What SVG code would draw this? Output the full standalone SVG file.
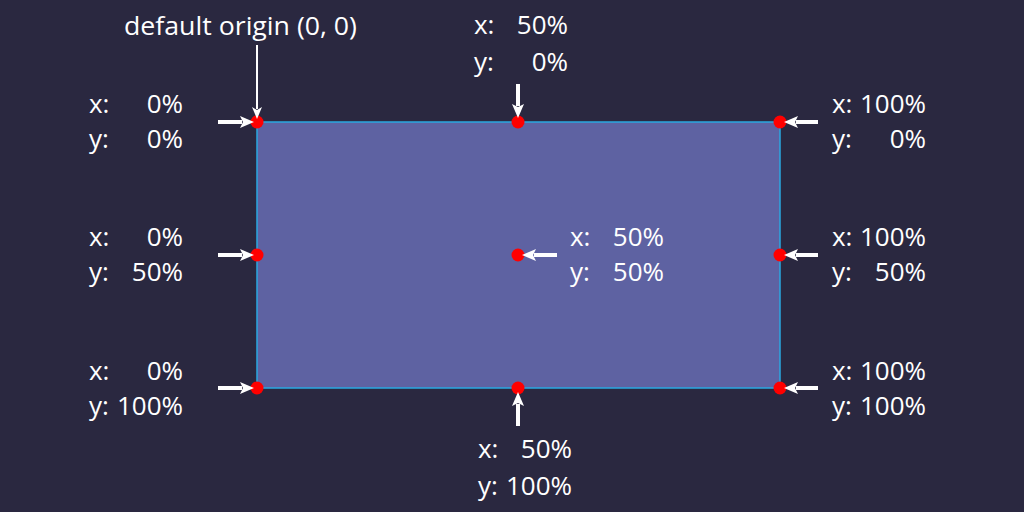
<svg xmlns="http://www.w3.org/2000/svg" width="1024" height="512" viewBox="0 0 1024 512">
<defs>
<style>
text{font-family:"Open Sans","Noto Sans",sans-serif;font-size:26px;fill:#ffffff}
.e{text-anchor:end}
.arr{stroke:#ffffff;stroke-width:4;fill:none}
.thin{stroke:#ffffff;stroke-width:2;fill:none}
.dot{fill:#ff0000}
</style>
<marker id="ah" viewBox="0 0 14 12" refX="2" refY="6" markerWidth="14" markerHeight="12" markerUnits="userSpaceOnUse" orient="auto">
<path d="M0,0 L14,6 L0,12 L3,6 Z" fill="#ffffff"/>
</marker>
<marker id="ah2" viewBox="0 0 12 10" refX="2" refY="5" markerWidth="12" markerHeight="10" markerUnits="userSpaceOnUse" orient="auto">
<path d="M0,0 L12,5 L0,10 L3,5 Z" fill="#ffffff"/>
</marker>
</defs>
<rect width="1024" height="512" fill="#2a2840"/>
<g id="box">
<rect x="257" y="122" width="523" height="266" fill="#5e62a2" stroke="#2aa8e0" stroke-width="1.5"/>
</g>
<g id="dots">
<circle class="dot" cx="257" cy="122" r="6.5"/>
<circle class="dot" cx="518" cy="122" r="6.5"/>
<circle class="dot" cx="780" cy="122" r="6.5"/>
<circle class="dot" cx="257" cy="255" r="6.5"/>
<circle class="dot" cx="518" cy="255" r="6.5"/>
<circle class="dot" cx="780" cy="255" r="6.5"/>
<circle class="dot" cx="257" cy="388" r="6.5"/>
<circle class="dot" cx="518" cy="388" r="6.5"/>
<circle class="dot" cx="780" cy="388" r="6.5"/>
</g>
<g id="connectors">
<line class="thin" x1="257" y1="45" x2="257" y2="109" marker-end="url(#ah2)"/>
<line class="arr" x1="218" y1="122" x2="242" y2="122" marker-end="url(#ah)"/>
<line class="arr" x1="218" y1="255" x2="242" y2="255" marker-end="url(#ah)"/>
<line class="arr" x1="218" y1="388" x2="242" y2="388" marker-end="url(#ah)"/>
<line class="arr" x1="518" y1="84" x2="518" y2="106" marker-end="url(#ah)"/>
<line class="arr" x1="518" y1="426" x2="518" y2="404" marker-end="url(#ah)"/>
<line class="arr" x1="557" y1="255" x2="534" y2="255" marker-end="url(#ah)"/>
<line class="arr" x1="818" y1="122" x2="796" y2="122" marker-end="url(#ah)"/>
<line class="arr" x1="818" y1="255" x2="796" y2="255" marker-end="url(#ah)"/>
<line class="arr" x1="818" y1="388" x2="796" y2="388" marker-end="url(#ah)"/>
</g>
<g id="label-origin"><text x="124" y="35" textLength="233" lengthAdjust="spacingAndGlyphs">default origin (0, 0)</text></g>
<g id="label-tl"><text x="89" y="113">x:</text><text class="e" x="183" y="113">0%</text><text x="89" y="148">y:</text><text class="e" x="183" y="148">0%</text></g>
<g id="label-ml"><text x="89" y="246">x:</text><text class="e" x="183" y="246">0%</text><text x="89" y="281">y:</text><text class="e" x="183" y="281">50%</text></g>
<g id="label-bl"><text x="89" y="380">x:</text><text class="e" x="183" y="380">0%</text><text x="89" y="415">y:</text><text class="e" x="183" y="415">100%</text></g>
<g id="label-tm"><text x="474" y="34">x:</text><text class="e" x="568" y="34">50%</text><text x="474" y="71">y:</text><text class="e" x="568" y="71">0%</text></g>
<g id="label-c"><text x="570" y="246">x:</text><text class="e" x="664" y="246">50%</text><text x="570" y="281">y:</text><text class="e" x="664" y="281">50%</text></g>
<g id="label-bm"><text x="478" y="458">x:</text><text class="e" x="572" y="458">50%</text><text x="478" y="495">y:</text><text class="e" x="572" y="495">100%</text></g>
<g id="label-tr"><text x="832" y="113">x:</text><text class="e" x="926" y="113">100%</text><text x="832" y="148">y:</text><text class="e" x="926" y="148">0%</text></g>
<g id="label-mr"><text x="832" y="246">x:</text><text class="e" x="926" y="246">100%</text><text x="832" y="281">y:</text><text class="e" x="926" y="281">50%</text></g>
<g id="label-br"><text x="832" y="380">x:</text><text class="e" x="926" y="380">100%</text><text x="832" y="415">y:</text><text class="e" x="926" y="415">100%</text></g>
</svg>
